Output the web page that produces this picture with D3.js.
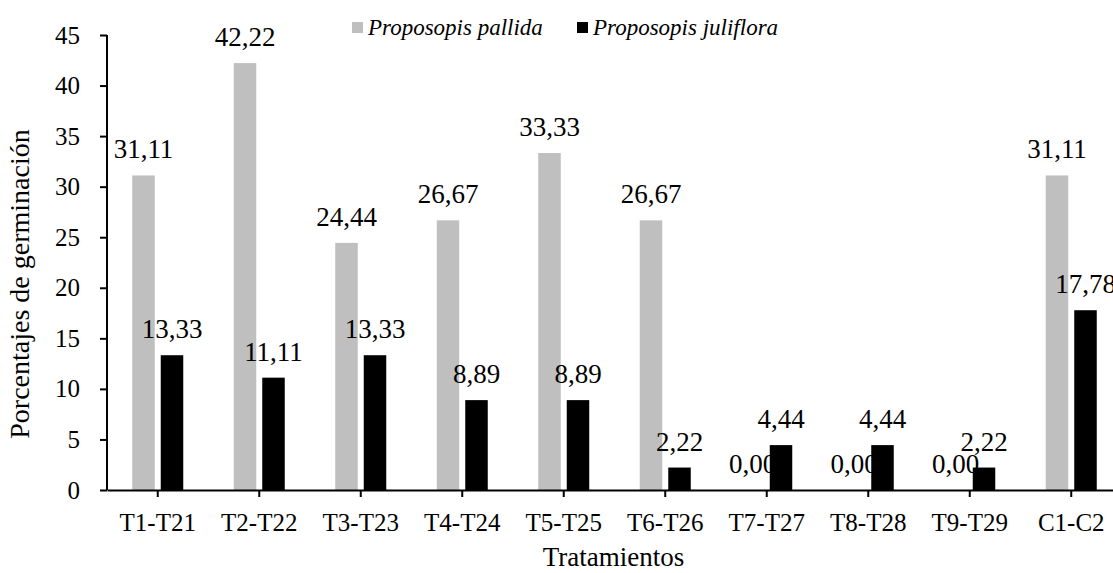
<!DOCTYPE html>
<html>
<head>
<meta charset="utf-8">
<script src="https://cdn.jsdelivr.net/npm/d3@7"></script>
<style>
  html, body { margin: 0; padding: 0; background: #fff; overflow: hidden; }
  svg text { font-family: "Liberation Serif", "Times New Roman", "DejaVu Serif", serif !important; }
</style>
</head>
<body>
<svg id="chart" width="1113" height="573"></svg>
<script>
// Germination percentages per treatment pair
const categories = ["T1-T21", "T2-T22", "T3-T23", "T4-T24", "T5-T25", "T6-T26", "T7-T27", "T8-T28", "T9-T29", "C1-C2"];
const pallida    = [31.11, 42.22, 24.44, 26.67, 33.33, 26.67, 0.00, 0.00, 0.00, 31.11];
const juliflora  = [13.33, 11.11, 13.33, 8.89, 8.89, 2.22, 4.44, 4.44, 2.22, 17.78];
const seriesNames = ["Proposopis pallida", "Proposopis juliflora"];
const yTicks = [0, 5, 10, 15, 20, 25, 30, 35, 40, 45];

const colors = ["#bfbfbf", "#000000"];
const serif = "'Liberation Serif', 'Times New Roman', serif";
const svg = d3.select("#chart");

const x = d3.scaleBand().domain(categories).range([107, 1122]).paddingInner(0).paddingOuter(0);
const y = d3.scaleLinear().domain([0, 45]).range([490, 35]);

const fmt = v => v.toFixed(2).replace(".", ",");
const barW = 22.5;
const offsets = [-25.5, 3];

// Bars
const series = [pallida, juliflora];
series.forEach((vals, si) => {
  svg.append("g").selectAll("rect")
    .data(vals.map((v, i) => ({ cat: categories[i], v })))
    .join("rect")
    .attr("x", d => x(d.cat) + x.bandwidth() / 2 + offsets[si])
    .attr("y", d => y(d.v))
    .attr("width", barW)
    .attr("height", d => y(0) - y(d.v))
    .attr("fill", colors[si]);
});

// Y axis
const yAxis = svg.append("g")
  .attr("transform", "translate(107,0)")
  .call(d3.axisLeft(y).tickValues(yTicks).tickSize(7).tickPadding(20).tickFormat(d3.format("d")));
yAxis.attr("font-family", serif);
yAxis.select(".domain").attr("stroke", "#000").attr("stroke-width", 2).attr("d", `M0,${y(45)}V${y(0)}`);
yAxis.selectAll(".tick line").attr("stroke", "#000").attr("stroke-width", 2);
yAxis.selectAll(".tick text").attr("fill", "#000").style("font-size", "25px");

// X axis
const xAxis = svg.append("g")
  .attr("transform", `translate(0,${y(0)})`)
  .call(d3.axisBottom(x).tickSize(7).tickSizeOuter(0));
xAxis.attr("font-family", serif);
xAxis.select(".domain").attr("stroke", "#000").attr("stroke-width", 2);
xAxis.selectAll(".tick line").attr("stroke", "#000").attr("stroke-width", 2);
xAxis.selectAll(".tick text").attr("fill", "#000").style("font-size", "25px")
  .attr("dy", null).attr("y", 41);

// Value labels
series.forEach((vals, si) => {
  svg.append("g").selectAll("text")
    .data(vals.map((v, i) => ({ cat: categories[i], v })))
    .join("text")
    .attr("x", d => x(d.cat) + x.bandwidth() / 2 + offsets[si] + barW / 2)
    .attr("y", d => y(d.v) - 17)
    .attr("text-anchor", "middle")
    .style("font-size", "27px")
    .attr("fill", "#000")
    .text(d => fmt(d.v));
});

// Axis titles
svg.append("text")
  .attr("transform", "translate(29,284) rotate(-90)")
  .attr("text-anchor", "middle")
  .style("font-size", "28px")
  .attr("fill", "#000")
  .text("Porcentajes de germinación");

svg.append("text")
  .attr("x", (x.range()[0] + x.range()[1]) / 2 - 1)
  .attr("y", 566)
  .attr("text-anchor", "middle")
  .style("font-size", "27px")
  .attr("fill", "#000")
  .text("Tratamientos");

// Legend
const legendX = [352, 577];
seriesNames.forEach((name, i) => {
  const g = svg.append("g").attr("transform", `translate(${legendX[i]},22)`);
  g.append("rect").attr("width", 11).attr("height", 11).attr("fill", colors[i]);
  g.append("text").attr("x", 16).attr("y", 13)
    .style("font-size", "23px").style("font-style", "italic")
    .attr("fill", "#000").text(name);
});
</script>
</body>
</html>
